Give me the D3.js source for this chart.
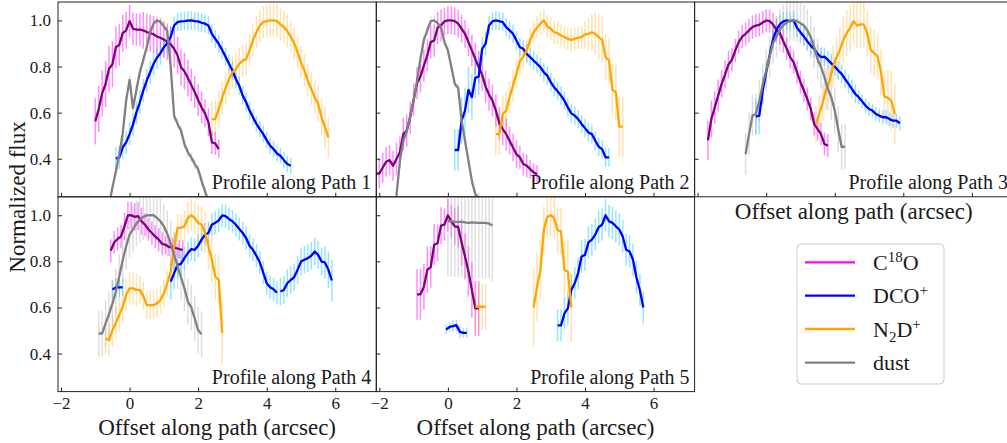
<!DOCTYPE html>
<html><head><meta charset="utf-8">
<script src="https://cdn.jsdelivr.net/npm/d3@7"></script>
<style>
body{margin:0;background:#fff}
text{font-family:"Liberation Serif","DejaVu Serif",serif;fill:#1a1a1a}
</style></head>
<body><svg id="c" width="1007" height="443"></svg>
<script>
// ---------------- data ----------------
const xTicks = [-2, 0, 2, 4, 6];
const yTicks = [0.4, 0.6, 0.8, 1.0];
const STEP = 0.1; // sampling interval along the path (arcsec)
const speciesNames = ["C18O", "DCO+", "N2D+", "dust"];
const panelTitles = ["Profile along Path 1","Profile along Path 2","Profile along Path 3","Profile along Path 4","Profile along Path 5"];

// Path 1
const p1_c18o_x0 = -1.0;
const p1_c18o = [0.562,0.616,0.684,0.725,0.79,0.81,0.884,0.894,0.945,0.957,0.997,0.964,0.96,0.96,0.957,0.95,0.945,0.94,0.93,0.925,0.917,0.907,0.896,0.877,0.848,0.797,0.78,0.75,0.72,0.69,0.655,0.623,0.597,0.558,0.471,0.467,0.442];
const p1_c18o_err = [0.1,0.1,0.1,0.1,0.1,0.1,0.09,0.09,0.08,0.08,0.07,0.07,0.07,0.07,0.08,0.08,0.08,0.08,0.08,0.08,0.08,0.08,0.08,0.08,0.08,0.08,0.08,0.08,0.07,0.07,0.07,0.07,0.06,0.06,0.05,0.05,0.04];
const p1_dco_x0 = -0.4;
const p1_dco = [0.401,0.406,0.449,0.471,0.507,0.548,0.601,0.645,0.696,0.739,0.775,0.812,0.838,0.858,0.884,0.901,0.93,0.978,0.993,0.996,0.997,0.999,1.0,0.997,0.996,0.99,0.986,0.978,0.942,0.92,0.899,0.872,0.843,0.812,0.783,0.746,0.717,0.674,0.645,0.609,0.58,0.551,0.529,0.507,0.481,0.457,0.442,0.423,0.413,0.394,0.377,0.37];
const p1_dco_err = [0.05,0.05,0.05,0.05,0.05,0.05,0.05,0.05,0.05,0.05,0.05,0.05,0.05,0.05,0.04,0.04,0.04,0.04,0.04,0.04,0.04,0.04,0.04,0.04,0.04,0.04,0.04,0.04,0.04,0.04,0.04,0.04,0.04,0.04,0.04,0.04,0.04,0.04,0.04,0.04,0.035,0.035,0.035,0.035,0.035,0.035,0.035,0.035,0.035,0.035,0.035,0.035];
const p1_n2d_x0 = 2.4;
const p1_n2d = [0.572,0.572,0.616,0.664,0.707,0.745,0.775,0.79,0.812,0.826,0.832,0.87,0.916,0.949,0.978,0.993,0.997,1.0,1.0,0.997,0.983,0.971,0.954,0.93,0.901,0.862,0.819,0.783,0.739,0.703,0.667,0.638,0.58,0.536,0.493];
const p1_n2d_err = [0.08,0.08,0.08,0.07,0.07,0.07,0.07,0.07,0.07,0.07,0.07,0.07,0.07,0.07,0.07,0.07,0.07,0.07,0.07,0.07,0.07,0.07,0.07,0.07,0.07,0.07,0.07,0.07,0.07,0.07,0.07,0.08,0.08,0.09,0.09];
const p1_dust_x0 = -0.6;
const p1_dust = [0.20,0.275,0.345,0.42,0.51,0.652,0.742,0.62,0.699,0.775,0.829,0.884,0.949,0.986,1.0,0.994,0.974,0.954,0.797,0.587,0.551,0.522,0.464,0.428,0.406,0.377,0.355,0.304,0.26,0.217];
const p1_dust_err = [0.02,0.02,0.02,0.02,0.02,0.02,0.02,0.02,0.02,0.02,0.02,0.02,0.02,0.02,0.02,0.02,0.02,0.02,0.02,0.02,0.02,0.02,0.02,0.02,0.02,0.02,0.02,0.02,0.02,0.02];

// Path 2
const p2_c18o_x0 = -2.1;
const p2_c18o = [0.336,0.336,0.362,0.387,0.394,0.37,0.399,0.428,0.507,0.522,0.58,0.655,0.728,0.757,0.804,0.848,0.906,0.913,0.968,0.978,0.996,1.0,1.0,0.997,0.986,0.964,0.942,0.906,0.87,0.833,0.797,0.765,0.713,0.678,0.652,0.609,0.554,0.529,0.507,0.478,0.449,0.42,0.406,0.377,0.37,0.355,0.341,0.333];
const p2_c18o_err = [0.065,0.065,0.065,0.065,0.065,0.065,0.07,0.07,0.07,0.07,0.07,0.07,0.07,0.07,0.07,0.07,0.07,0.07,0.07,0.07,0.06,0.06,0.06,0.06,0.06,0.06,0.06,0.06,0.07,0.07,0.07,0.07,0.07,0.07,0.07,0.07,0.07,0.07,0.07,0.06,0.06,0.06,0.05,0.05,0.05,0.04,0.04,0.04];
const p2_dust_x0 = -1.6;
const p2_dust = [0.16,0.239,0.391,0.478,0.519,0.587,0.652,0.739,0.833,0.916,0.957,0.997,1.0,0.988,0.971,0.906,0.87,0.8,0.725,0.707,0.565,0.478,0.391,0.304,0.246,0.232,0.2];
const p2_dust_err = [0.02,0.02,0.02,0.02,0.02,0.02,0.02,0.02,0.02,0.02,0.02,0.02,0.02,0.02,0.02,0.02,0.02,0.02,0.02,0.02,0.02,0.02,0.02,0.02,0.02,0.02,0.02];
const p2_dco_x0 = 0.2;
const p2_dco = [0.438,0.438,0.565,0.609,0.699,0.667,0.751,0.757,0.877,0.899,0.978,0.996,1.0,0.997,0.993,0.971,0.957,0.942,0.913,0.884,0.877,0.855,0.841,0.826,0.812,0.797,0.775,0.761,0.732,0.71,0.693,0.674,0.652,0.623,0.597,0.587,0.572,0.551,0.533,0.514,0.507,0.478,0.452,0.442,0.406,0.406];
const p2_dco_err = [0.09,0.09,0.1,0.1,0.1,0.1,0.09,0.08,0.05,0.05,0.04,0.04,0.04,0.04,0.04,0.04,0.04,0.04,0.04,0.04,0.04,0.04,0.04,0.04,0.04,0.04,0.04,0.04,0.04,0.04,0.04,0.04,0.04,0.04,0.04,0.04,0.04,0.04,0.04,0.04,0.04,0.04,0.04,0.04,0.04,0.04];
const p2_n2d_x0 = 1.4;
const p2_n2d = [0.507,0.507,0.594,0.609,0.667,0.717,0.768,0.823,0.843,0.87,0.916,0.949,0.968,0.986,1.0,0.974,0.964,0.949,0.945,0.935,0.928,0.92,0.916,0.92,0.925,0.928,0.939,0.942,0.949,0.942,0.928,0.916,0.841,0.826,0.699,0.688,0.539,0.539];
const p2_n2d_err = [0.09,0.09,0.08,0.08,0.07,0.07,0.06,0.06,0.05,0.05,0.05,0.05,0.05,0.05,0.05,0.05,0.05,0.05,0.05,0.05,0.05,0.05,0.05,0.05,0.05,0.05,0.06,0.07,0.08,0.09,0.1,0.1,0.1,0.1,0.11,0.12,0.13,0.13];

// Path 3
const p3_c18o_x0 = -1.7;
const p3_c18o = [0.48,0.572,0.623,0.674,0.725,0.765,0.809,0.829,0.87,0.906,0.93,0.942,0.957,0.971,0.978,0.981,0.991,1.0,0.997,0.983,0.959,0.945,0.91,0.877,0.841,0.819,0.775,0.732,0.696,0.659,0.616,0.551,0.529,0.507,0.464,0.457];
const p3_c18o_err = [0.085,0.08,0.07,0.07,0.06,0.06,0.06,0.05,0.05,0.05,0.05,0.05,0.05,0.05,0.05,0.05,0.05,0.05,0.05,0.05,0.05,0.05,0.05,0.05,0.05,0.05,0.05,0.05,0.05,0.05,0.05,0.05,0.05,0.05,0.05,0.05];
const p3_dust_x0 = -0.6;
const p3_dust = [0.42,0.507,0.587,0.594,0.652,0.722,0.783,0.843,0.901,0.93,0.959,0.98,0.991,0.999,1.0,0.997,0.988,0.978,0.957,0.928,0.884,0.833,0.797,0.754,0.703,0.667,0.609,0.529,0.452,0.452];
const p3_dust_err = [0.09,0.09,0.09,0.09,0.09,0.09,0.09,0.09,0.09,0.09,0.09,0.09,0.09,0.09,0.09,0.09,0.09,0.09,0.09,0.09,0.09,0.09,0.09,0.09,0.09,0.1,0.1,0.1,0.1,0.1];
const p3_dco_x0 = -0.3;
const p3_dco = [0.583,0.587,0.696,0.775,0.848,0.92,0.959,0.983,0.996,1.0,0.997,1.0,0.968,0.949,0.93,0.91,0.891,0.877,0.855,0.841,0.843,0.829,0.814,0.8,0.783,0.768,0.746,0.725,0.703,0.681,0.667,0.649,0.63,0.616,0.609,0.594,0.587,0.58,0.58,0.572,0.565,0.565,0.554];
const p3_dco_err = [0.08,0.08,0.06,0.05,0.04,0.04,0.04,0.04,0.04,0.04,0.04,0.04,0.04,0.04,0.04,0.04,0.04,0.04,0.04,0.04,0.04,0.04,0.04,0.04,0.04,0.04,0.04,0.04,0.04,0.04,0.03,0.03,0.03,0.03,0.03,0.03,0.03,0.03,0.03,0.03,0.03,0.03,0.03];
const p3_n2d_x0 = 1.45;
const p3_n2d = [0.551,0.594,0.645,0.699,0.739,0.8,0.838,0.872,0.916,0.945,0.968,0.997,0.978,0.983,0.983,0.942,0.872,0.858,0.843,0.775,0.67,0.664,0.652,0.594];
const p3_n2d_err = [0.08,0.08,0.08,0.09,0.09,0.09,0.09,0.1,0.1,0.1,0.1,0.1,0.1,0.1,0.1,0.1,0.1,0.1,0.1,0.1,0.11,0.12,0.13,0.13];

// Path 4
const p4_c18o_x0 = -0.55;
const p4_c18o = [0.846,0.882,0.897,0.908,0.952,0.999,1.0,0.993,0.996,0.974,0.959,0.938,0.923,0.908,0.894,0.876,0.872,0.862,0.862,0.858,0.853,0.85];
const p4_c18o_err = [0.05,0.05,0.05,0.05,0.06,0.06,0.06,0.06,0.06,0.06,0.05,0.05,0.05,0.05,0.05,0.05,0.04,0.04,0.04,0.04,0.04,0.04];
const p4_dust_x0 = -0.9;
const p4_dust = [0.487,0.487,0.531,0.571,0.618,0.669,0.734,0.807,0.865,0.916,0.94,0.964,0.981,0.993,0.999,1.0,1.0,0.988,0.974,0.952,0.92,0.876,0.828,0.778,0.731,0.683,0.625,0.6,0.552,0.501,0.484];
const p4_dust_err = [0.1,0.1,0.1,0.1,0.1,0.1,0.1,0.1,0.1,0.1,0.1,0.1,0.1,0.1,0.1,0.1,0.1,0.1,0.1,0.1,0.1,0.1,0.1,0.1,0.1,0.1,0.1,0.1,0.1,0.1,0.1];
const p4_dco_a_x0 = -0.5;
const p4_dco_a = [0.678,0.687,0.687,0.687];
const p4_dco_a_err = [0.04,0.04,0.04,0.04];
const p4_dco_b_x0 = 1.2;
const p4_dco_b = [0.712,0.749,0.785,0.789,0.814,0.836,0.853,0.85,0.868,0.894,0.916,0.923,0.959,0.967,0.978,0.999,0.996,0.984,0.974,0.959,0.94,0.923,0.901,0.868,0.85,0.824,0.795,0.751,0.705,0.688,0.679,0.664];
const p4_dco_b_err = [0.08,0.07,0.06,0.06,0.05,0.05,0.05,0.05,0.05,0.05,0.05,0.05,0.05,0.05,0.05,0.05,0.05,0.05,0.05,0.05,0.05,0.05,0.05,0.05,0.05,0.05,0.05,0.05,0.05,0.05,0.05,0.05];
const p4_dco_c_x0 = 4.4;
const p4_dco_c = [0.669,0.676,0.705,0.719,0.731,0.763,0.799,0.807,0.814,0.824,0.843,0.828,0.799,0.795,0.763,0.717];
const p4_dco_c_err = [0.06,0.06,0.06,0.06,0.06,0.06,0.06,0.06,0.06,0.06,0.06,0.06,0.06,0.07,0.08,0.09];
const p4_n2d_x0 = -0.7;
const p4_n2d = [0.465,0.458,0.501,0.533,0.567,0.603,0.654,0.683,0.683,0.676,0.676,0.65,0.61,0.61,0.61,0.618,0.632,0.661,0.705,0.756,0.865,0.945,0.945,0.952,0.988,1.0,0.988,0.967,0.959,0.926,0.865,0.807,0.734,0.72,0.49];
const p4_n2d_err = [0.07,0.07,0.07,0.07,0.07,0.07,0.07,0.07,0.07,0.07,0.06,0.06,0.06,0.06,0.06,0.06,0.06,0.06,0.06,0.06,0.06,0.06,0.06,0.07,0.07,0.07,0.07,0.08,0.08,0.09,0.1,0.1,0.1,0.11,0.14];

// Path 5
const p5_c18o_x0 = -0.9;
const p5_c18o = [0.657,0.657,0.69,0.763,0.775,0.872,0.879,0.955,0.959,1.0,0.974,0.952,0.949,0.882,0.821,0.756,0.676,0.596,0.596];
const p5_c18o_err = [0.11,0.11,0.1,0.1,0.09,0.09,0.08,0.08,0.07,0.07,0.07,0.08,0.09,0.1,0.1,0.11,0.12,0.12,0.12];
const p5_dust_x0 = 0.0;
const p5_dust = [0.974,0.974,0.972,0.971,0.971,0.969,0.967,0.969,0.968,0.967,0.967,0.967,0.964,0.955];
const p5_dust_err = [0.24,0.24,0.24,0.24,0.24,0.24,0.24,0.24,0.24,0.24,0.24,0.24,0.24,0.24];
const p5_dco_a_x0 = -0.05;
const p5_dco_a = [0.504,0.516,0.519,0.523,0.494,0.49,0.49];
const p5_dco_a_err = [0.02,0.02,0.025,0.025,0.025,0.02,0.02];
const p5_dco_b_x0 = 3.2;
const p5_dco_b = [0.522,0.522,0.574,0.596,0.676,0.705,0.749,0.821,0.828,0.882,0.894,0.916,0.949,0.959,1.0,0.974,0.967,0.952,0.938,0.908,0.85,0.843,0.807,0.731,0.676,0.6];
const p5_dco_b_err = [0.07,0.07,0.07,0.07,0.07,0.07,0.07,0.07,0.07,0.07,0.07,0.07,0.07,0.07,0.07,0.07,0.07,0.07,0.07,0.07,0.07,0.07,0.07,0.07,0.07,0.07];
const p5_n2d_a_x0 = 0.8;
const p5_n2d_a = [0.603,0.603,0.603,0.603];
const p5_n2d_a_err = [0.1,0.1,0.1,0.1];
const p5_n2d_b_x0 = 2.5;
const p5_n2d_b = [0.6,0.69,0.763,0.938,0.993,1.0,0.988,0.935,0.93,0.763,0.756,0.6];
const p5_n2d_b_err = [0.17,0.15,0.13,0.1,0.09,0.09,0.09,0.1,0.1,0.12,0.14,0.15];

// ---------------- styling ----------------
const lineColor = {c18o:"#800080", dco:"#0000ff", n2d:"#ffa500", dust:"#808080"};
const barColor  = {c18o:"#ff00ff", dco:"#00bfff", n2d:"#ffa500", dust:"#a8a8a8"};
const barOpacity = {c18o:0.45, dco:0.42, n2d:0.32, dust:0.38};
const legendColor = {c18o:"#ff00ff", dco:"#0000ff", n2d:"#ffa500", dust:"#808080"};

function seg(sp, x0, ys, es){
  return {sp, pts: ys.map((v,i)=>({x: x0 + i*STEP, y: v, e: es[i]}))};
}
const panels = [
  {col:0,row:0,ylab:true,xlab:false,xtitle:false,series:[
    seg("c18o",p1_c18o_x0,p1_c18o,p1_c18o_err), seg("dco",p1_dco_x0,p1_dco,p1_dco_err),
    seg("n2d",p1_n2d_x0,p1_n2d,p1_n2d_err), seg("dust",p1_dust_x0,p1_dust,p1_dust_err)]},
  {col:1,row:0,ylab:false,xlab:false,xtitle:false,series:[
    seg("c18o",p2_c18o_x0,p2_c18o,p2_c18o_err), seg("dco",p2_dco_x0,p2_dco,p2_dco_err),
    seg("n2d",p2_n2d_x0,p2_n2d,p2_n2d_err), seg("dust",p2_dust_x0,p2_dust,p2_dust_err)]},
  {col:2,row:0,ylab:false,xlab:false,xtitle:true,series:[
    seg("c18o",p3_c18o_x0,p3_c18o,p3_c18o_err), seg("dco",p3_dco_x0,p3_dco,p3_dco_err),
    seg("n2d",p3_n2d_x0,p3_n2d,p3_n2d_err), seg("dust",p3_dust_x0,p3_dust,p3_dust_err)]},
  {col:0,row:1,ylab:true,xlab:true,xtitle:true,series:[
    seg("c18o",p4_c18o_x0,p4_c18o,p4_c18o_err), seg("dco",p4_dco_a_x0,p4_dco_a,p4_dco_a_err),
    seg("dco",p4_dco_b_x0,p4_dco_b,p4_dco_b_err), seg("dco",p4_dco_c_x0,p4_dco_c,p4_dco_c_err),
    seg("n2d",p4_n2d_x0,p4_n2d,p4_n2d_err), seg("dust",p4_dust_x0,p4_dust,p4_dust_err)]},
  {col:1,row:1,ylab:false,xlab:true,xtitle:true,series:[
    seg("c18o",p5_c18o_x0,p5_c18o,p5_c18o_err), seg("dco",p5_dco_a_x0,p5_dco_a,p5_dco_a_err),
    seg("dco",p5_dco_b_x0,p5_dco_b,p5_dco_b_err), seg("n2d",p5_n2d_a_x0,p5_n2d_a,p5_n2d_a_err),
    seg("n2d",p5_n2d_b_x0,p5_n2d_b,p5_n2d_b_err), seg("dust",p5_dust_x0,p5_dust,p5_dust_err)]}
];

// ---------------- layout ----------------
const svg = d3.select("#c");
const W = 318.3, H = 194.8, L0 = 58, T0 = 2;
const xDomain = [-2.088, 7.197], yDomain = [0.235, 1.08];

panels.forEach((p, pi) => {
  const left = L0 + p.col*W, top = T0 + p.row*H;
  const g = svg.append("g").attr("transform", `translate(${left},${top})`);
  const x = d3.scaleLinear().domain(xDomain).range([0, W]);
  const y = d3.scaleLinear().domain(yDomain).range([H, 0]);
  const cid = "clip"+pi;
  g.append("clipPath").attr("id", cid).append("rect").attr("width", W).attr("height", H);
  const plot = g.append("g").attr("clip-path", `url(#${cid})`);

  // error bars first
  p.series.forEach(s => {
    plot.append("g").selectAll("line").data(s.pts).join("line")
      .attr("x1", d=>x(d.x)).attr("x2", d=>x(d.x))
      .attr("y1", d=>y(d.y - d.e)).attr("y2", d=>y(d.y + d.e))
      .attr("stroke", barColor[s.sp]).attr("stroke-opacity", barOpacity[s.sp])
      .attr("stroke-width", 1.5);
  });
  const order = ["c18o","dco","n2d","dust"];
  order.forEach(sp => {
    p.series.filter(s=>s.sp===sp).forEach(s => {
      plot.append("path").datum(s.pts)
        .attr("d", d3.line().x(d=>x(d.x)).y(d=>y(d.y)))
        .attr("fill","none").attr("stroke", lineColor[sp])
        .attr("stroke-width", 2.3).attr("stroke-linejoin","round");
    });
  });

  // axes
  const ax = d3.axisBottom(x).tickValues(xTicks).tickSizeInner(-4).tickSizeOuter(0).tickPadding(5)
    .tickFormat(p.xlab ? d3.format("") : ()=>"");
  const gx = g.append("g").attr("transform", `translate(0,${H})`).call(ax);
  const ay = d3.axisLeft(y).tickValues(yTicks).tickSizeInner(-4).tickSizeOuter(0).tickPadding(7)
    .tickFormat(p.ylab ? d3.format(".1f") : ()=>"");
  const gy = g.append("g").call(ay);
  [gx, gy].forEach(a => {
    a.select(".domain").remove();
    a.selectAll(".tick line").attr("stroke","#222").attr("stroke-width",1);
    a.selectAll(".tick text").attr("font-size",17).attr("fill","#1a1a1a");
  });
  g.append("rect").attr("width", W).attr("height", H)
    .attr("fill","none").attr("stroke","#222").attr("stroke-width",1);

  g.append("text").attr("x", W-5).attr("y", H-8).attr("text-anchor","end")
    .attr("font-size",20).text(panelTitles[pi]);

  if (p.xtitle) {
    g.append("text").attr("x", W/2).attr("y", H + (p.xlab ? 43 : 22))
      .attr("text-anchor","middle").attr("font-size",23).text("Offset along path (arcsec)");
  }
});

svg.append("text").attr("transform","translate(25,197) rotate(-90)")
  .attr("text-anchor","middle").attr("font-size",23).text("Normalized flux");

// legend
const lg = svg.append("g");
lg.append("rect").attr("x",797).attr("y",244).attr("width",147).attr("height",140)
  .attr("rx",4).attr("fill","#fff").attr("stroke","#cccccc").attr("stroke-width",1);
const legKeys = ["c18o","dco","n2d","dust"];
const rowY = [262.3, 295.7, 329, 362.7];
legKeys.forEach((k,i) => {
  lg.append("line").attr("x1",805).attr("x2",855).attr("y1",rowY[i]).attr("y2",rowY[i])
    .attr("stroke",legendColor[k]).attr("stroke-width",2.3);
  const t = lg.append("text").attr("x",873).attr("y",rowY[i]+7.5).attr("font-size",22);
  const name = speciesNames[i];
  if (name === "C18O") {
    t.append("tspan").text("C");
    t.append("tspan").attr("dy",-8).attr("font-size",15).text("18");
    t.append("tspan").attr("dy",8).text("O");
  } else if (name === "DCO+") {
    t.append("tspan").text("DCO");
    t.append("tspan").attr("dy",-8).attr("font-size",15).text("+");
  } else if (name === "N2D+") {
    t.append("tspan").text("N");
    t.append("tspan").attr("dy",5).attr("font-size",15).text("2");
    t.append("tspan").attr("dy",-5).text("D");
    t.append("tspan").attr("dy",-8).attr("font-size",15).text("+");
  } else {
    t.text(name);
  }
});
</script></body></html>
